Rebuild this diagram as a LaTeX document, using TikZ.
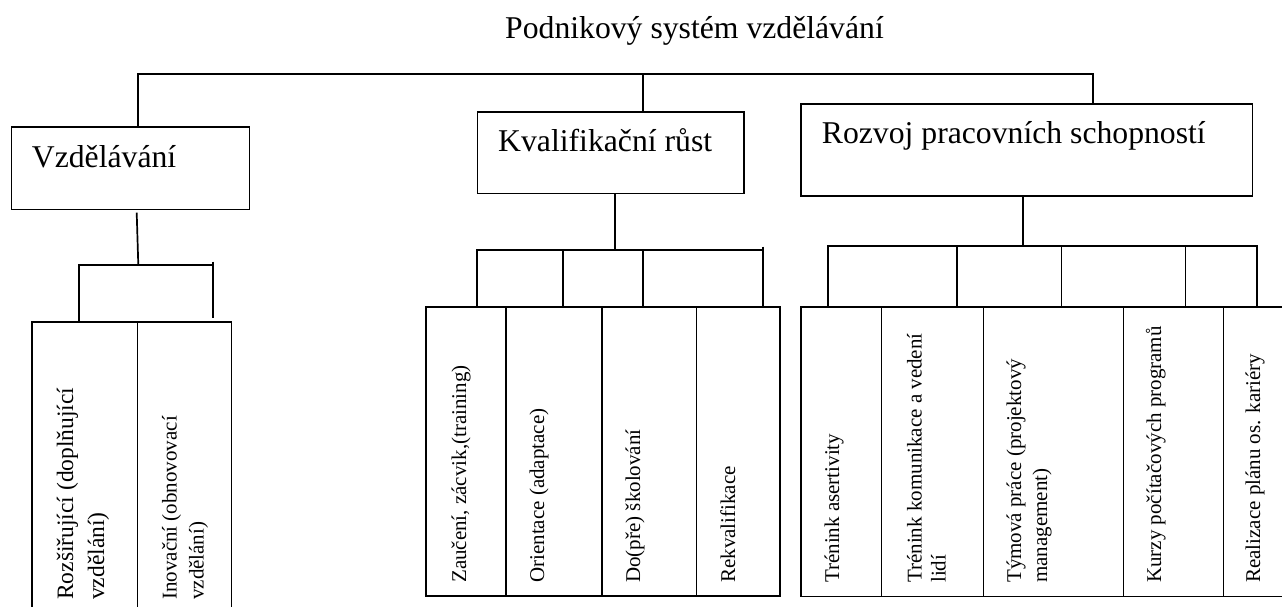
\documentclass[tikz,border=0pt]{standalone}
\usepackage{fontspec}
\setmainfont{Liberation Serif}
\begin{document}
\begin{tikzpicture}[x=1pt,y=-1pt,
  ln/.style={line width=1.7pt, black},
  boxnode/.style={draw, line width=1.7pt, anchor=north west, inner sep=0pt},
  bigtext/.style={font=\fontsize{31.7}{36}\selectfont, anchor=base west, inner sep=0pt},
  vtext/.style={font=\fontsize{21}{#1}\selectfont, rotate=90, anchor=base west, inner sep=0pt, align=left},
  vtext/.default=25]
\fill[white] (0,0) rectangle (1282,606);
\clip (0,0) rectangle (1282,606);

% title
\node[bigtext] (title) at (505,38.3) {Podnikový systém vzdělávání};

% main boxes
\node[boxnode, minimum width=238pt, minimum height=82.7pt] (vz) at (10.7,126) {};
\node[boxnode, minimum width=266.6pt, minimum height=81.7pt] (kv) at (476.7,111) {};
\node[boxnode, minimum width=451.7pt, minimum height=91.7pt] (rz) at (800,103.3) {};
\node[bigtext] (vzt) at (31.7,167.7) {Vzdělávání};
\node[bigtext] (kvt) at (498,151.7) {Kvalifikační růst};
\node[bigtext] (rzt) at (821.7,143.3) {Rozvoj pracovních schopností};

% top connectors
\coordinate (tA) at (138.3,74);
\coordinate (tB) at (643.3,74);
\coordinate (tC) at (1093.3,74);
\draw[ln] (tA |- vz.north) -- (tA) -- (tC) -- (tC |- rz.north);
\draw[ln] (tB) -- (tB |- kv.north);

% sub boxes: Vzdělávání
\node[boxnode, minimum width=105.7pt, minimum height=330pt] (vz1) at (31,321) {};
\node[boxnode, minimum width=94pt, minimum height=330pt] (vz2) at (136.7,321) {};
% sub boxes: Kvalifikační růst
\node[boxnode, minimum width=80pt, minimum height=289pt] (kv1) at (425,306) {};
\node[boxnode, minimum width=96pt, minimum height=289pt] (kv2) at (505,306) {};
\node[boxnode, minimum width=94.7pt, minimum height=289pt] (kv3) at (601,306) {};
\node[boxnode, minimum width=83.3pt, minimum height=289pt] (kv4) at (695.7,306) {};
% sub boxes: Rozvoj
\node[boxnode, minimum width=80.7pt, minimum height=289.7pt] (rz1) at (800,306) {};
\node[boxnode, minimum width=102pt, minimum height=289.7pt] (rz2) at (880.7,306) {};
\node[boxnode, minimum width=140pt, minimum height=289.7pt] (rz3) at (982.7,306) {};
\node[boxnode, minimum width=100pt, minimum height=289.7pt] (rz4) at (1122.7,306) {};
\node[boxnode, minimum width=90pt, minimum height=289.7pt] (rz5) at (1222.7,306) {};

% Vzdělávání connectors
\coordinate (vzS) at (136.7,212.7);
\coordinate (vzJ) at (138.3,265);
\coordinate (vzL) at (78.7,265);
\coordinate (vzR) at (212.7,265);
\coordinate (vzRt) at (212.7,261.7);
\coordinate (vzRb) at (212.7,318);
\draw[ln] (vzS) -- (vzJ);
\draw[ln] (vz1.north -| vzL) -- (vzL) -- (vzR);
\draw[ln] (vzRt) -- (vzRb);

% Kvalifikační connectors
\coordinate (kvJ) at (615,250);
\coordinate (kvL) at (476.7,250);
\coordinate (kvR) at (763.3,250);
\coordinate (kvRt) at (763.3,246.7);
\coordinate (kv2t) at (563.3,250);
\coordinate (kv3t) at (643.3,250);
\draw[ln] (kv.south -| kvJ) -- (kvJ);
\draw[ln] (kv1.north -| kvL) -- (kvL) -- (kvR);
\draw[ln] (kvRt) -- (kvRt |- kv4.north);
\draw[ln] (kv2t) -- (kv2t |- kv1.north);
\draw[ln] (kv3t) -- (kv3t |- kv3.north);

% Rozvoj connectors
\coordinate (rzJ) at (1023.3,246);
\coordinate (rzL) at (828.3,246);
\coordinate (rzR) at (1256.7,246);
\coordinate (rz2t) at (957,246);
\coordinate (rz3t) at (1061.5,246);
\coordinate (rz4t) at (1185.5,246);
\draw[ln] (rz.south -| rzJ) -- (rzJ);
\draw[ln] (rz1.north -| rzL) -- (rzL) -- (rzR) -- (rzR |- rz5.north);
\draw[ln] (rz2t) -- (rz2t |- rz2.north);
\draw[ln] (rz3t) -- (rz3t |- rz3.north);
\draw[ln] (rz4t) -- (rz4t |- rz4.north);

% rotated texts (base anchor = baseline of the last line)
\node[vtext=31, font=\fontsize{23.5}{31}\selectfont] (vz1t) at (104,600) {Rozšiřující (doplňující\\vzdělání)};
\node[vtext=27] (vz2t) at (203.7,600) {Inovační (obnovovací\\vzdělání)};
\node[vtext] (kv1t) at (466,583) {Zaučení, zácvik,(training)};
\node[vtext] (kv2t) at (544,583) {Orientace (adaptace)};
\node[vtext] (kv3t) at (640,583) {Do(pře) školování};
\node[vtext] (kv4t) at (735,583) {Rekvalifikace};
\node[vtext] (rz1t) at (839,583) {Trénink asertivity};
\node[vtext=24] (rz2t) at (945.7,583) {Trénink komunikace a vedení\\lidí};
\node[vtext=26] (rz3t) at (1047,583) {Týmová práce (projektový\\management)};
\node[vtext] (rz4t) at (1161,583) {Kurzy počítačových programů};
\node[vtext] (rz5t) at (1260,583) {Realizace plánu os. kariéry};
\end{tikzpicture}
\end{document}
